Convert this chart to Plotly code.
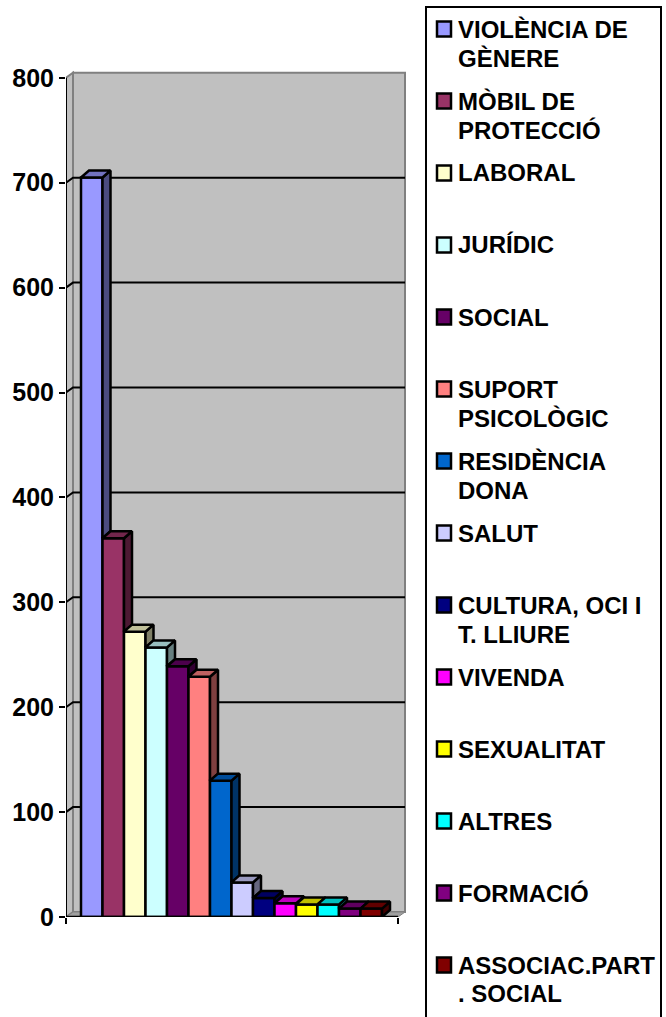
import plotly.graph_objects as go

# ---------- data ----------
categories = ["VIOLÈNCIA DE<br>GÈNERE", "MÒBIL DE<br>PROTECCIÓ", "LABORAL", "JURÍDIC", "SOCIAL",
              "SUPORT<br>PSICOLÒGIC", "RESIDÈNCIA<br>DONA", "SALUT", "CULTURA, OCI I<br>T. LLIURE",
              "VIVENDA", "SEXUALITAT", "ALTRES", "FORMACIÓ", "ASSOCIAC.PART<br>. SOCIAL"]
values = [705, 361, 272, 257, 239, 229, 130, 33, 18, 13, 12, 12, 8, 8]
colors = ["#9999FF", "#993366", "#FFFFCC", "#CCFFFF", "#660066", "#FF8080", "#0066CC",
          "#CCCCFF", "#000080", "#FF00FF", "#FFFF00", "#00FFFF", "#800080", "#800000"]
y_ticks = [0, 100, 200, 300, 400, 500, 600, 700, 800]

# ---------- geometry (pixels of the 666x1017 page) ----------
W, H = 666, 1017
L, R, T, B = 66, 406, 70, 917
BAR_PX, BAR_X0 = 21.5, 81
Y_PX = 1.049
FONT = "Liberation Sans, Arial, sans-serif"
EDGE = 2.5

x_lo = (L - BAR_X0) / BAR_PX
x_hi = (R - BAR_X0) / BAR_PX
y_hi = (B - T) / Y_PX
xu = lambda px: (px - BAR_X0) / BAR_PX      # page px -> x units
dyu = lambda px: px / Y_PX                  # page px -> y units
px_paper_x = lambda px: (px - L) / (R - L)
px_paper_y = lambda py: (B - py) / (B - T)

WALL_DX, WALL_DY = xu(73) - xu(66), dyu(5)
FLOOR_END = xu(398)
BAR_DX, BAR_DY = 8 / BAR_PX, dyu(7)
GRAY, WALL = "#808080", "#C0C0C0"


def shade(col, f):
    r, g, b = int(col[1:3], 16), int(col[3:5], 16), int(col[5:7], 16)
    return f"rgb({int(r*f)},{int(g*f)},{int(b*f)})"


fig = go.Figure()

# ---------- back wall, side wall, floor and gridlines ----------
x0, x1 = xu(66), FLOOR_END
shapes = [
    dict(type="path", layer="below", xref="x", yref="y",
         path=f"M{x0},0 L{x0+WALL_DX},{WALL_DY} L{x0+WALL_DX},{800+WALL_DY} L{x0},800 Z",
         fillcolor=WALL, line=dict(color=GRAY, width=2)),
    dict(type="rect", layer="below", xref="x", yref="y",
         x0=x0+WALL_DX, x1=x1+WALL_DX, y0=WALL_DY, y1=800+WALL_DY,
         fillcolor=WALL, line=dict(color=GRAY, width=2)),
    dict(type="path", layer="below", xref="x", yref="y",
         path=f"M{x0},0 L{x1},0 L{x1+WALL_DX},{WALL_DY} L{x0+WALL_DX},{WALL_DY} Z",
         fillcolor="#A0A0A0", line=dict(color=GRAY, width=1)),
]
for t in y_ticks[1:-1]:
    shapes.append(dict(type="path", layer="below", xref="x", yref="y",
                       path=f"M{x0},{t} L{x0+WALL_DX},{t+WALL_DY} L{x1+WALL_DX},{t+WALL_DY}",
                       line=dict(color="black", width=2)))

# ---------- bars: native front faces ----------
for i, (name, v, c) in enumerate(zip(categories, values, colors)):
    fig.add_trace(go.Bar(x=[i + 0.5], y=[v], width=[1], name=name.replace("<br>", " "),
                         marker=dict(color=c, line=dict(color="black", width=EDGE)),
                         showlegend=False))

# ---------- bars: side and top faces derived from the values ----------
for i, (v, c) in enumerate(zip(values, colors)):
    nxt = values[i + 1] if i + 1 < len(values) else 0
    r = i + 1
    fig.add_trace(go.Scatter(
        x=[r, r + BAR_DX, r + BAR_DX, r, r],
        y=[v, v + BAR_DY, nxt + BAR_DY, nxt, v],
        mode="lines", fill="toself", fillcolor=shade(c, 0.5),
        line=dict(color="black", width=EDGE), hoverinfo="skip", showlegend=False))
    fig.add_trace(go.Scatter(
        x=[i, i + BAR_DX, r + BAR_DX, r, i],
        y=[v, v + BAR_DY, v + BAR_DY, v, v],
        mode="lines", fill="toself", fillcolor=shade(c, 0.75),
        line=dict(color="black", width=EDGE), hoverinfo="skip", showlegend=False))

# ---------- axis lines ----------
fig.add_trace(go.Scatter(x=[x0, x0], y=[0, y_ticks[-1]], mode="lines", cliponaxis=False,
                         line=dict(color="black", width=2), hoverinfo="skip", showlegend=False))
fig.add_trace(go.Scatter(x=[x0, x1], y=[0, 0], mode="lines", cliponaxis=False,
                         line=dict(color="black", width=2.5), hoverinfo="skip", showlegend=False))

# ---------- legend box drawn to the reference's layout ----------
LEG_X0, LEG_X1, LEG_TOP, LEG_BOTTOM = 426, 661, 7, 1030
shapes.append(dict(type="rect", xref="paper", yref="paper", layer="above",
                   x0=px_paper_x(LEG_X0), x1=px_paper_x(LEG_X1),
                   y0=px_paper_y(LEG_BOTTOM), y1=px_paper_y(LEG_TOP),
                   fillcolor="white", line=dict(color="black", width=2)))
annotations = []
ROW0, ROW_STEP, LINE_STEP = 29, 72, 29
for k, (name, c) in enumerate(zip(categories, colors)):
    yc = ROW0 + ROW_STEP * k
    shapes.append(dict(type="rect", xref="paper", yref="paper", layer="above",
                       x0=px_paper_x(437), x1=px_paper_x(451),
                       y0=px_paper_y(yc + 7.5), y1=px_paper_y(yc - 7.5),
                       fillcolor=c, line=dict(color="black", width=2.5)))
    for j, part in enumerate(name.split("<br>")):
        annotations.append(dict(xref="paper", yref="paper", showarrow=False,
                                x=px_paper_x(456), y=px_paper_y(yc + j * LINE_STEP),
                                xanchor="left", yanchor="middle", text=f"<b>{part}</b>",
                                font=dict(family=FONT, size=24, color="black")))

fig.update_layout(
    width=W, height=H, autosize=False,
    margin=dict(l=L, r=W - R, t=T, b=H - B, pad=0),
    paper_bgcolor="white", plot_bgcolor="white",
    barmode="overlay", showlegend=False,
    shapes=shapes, annotations=annotations,
    font=dict(family=FONT, color="black"),
    xaxis=dict(range=[x_lo, x_hi], showgrid=False, zeroline=False, showline=False, automargin=False,
               tickmode="array", tickvals=[x0, x1], ticktext=["", ""],
               ticks="outside", ticklen=6, tickwidth=2, tickcolor="black"),
    yaxis=dict(range=[0, y_hi], showgrid=False, zeroline=False, showline=False, automargin=False,
               tickmode="array", tickvals=y_ticks, ticktext=[f"<b>{t}</b>" for t in y_ticks],
               ticks="outside", ticklen=6, tickwidth=2, tickcolor="black",
               tickfont=dict(family=FONT, size=25, color="black")),
)

fig.write_html("out.html", config=dict(displayModeBar=False),
               post_script="document.body.style.margin='0';document.body.style.overflow='hidden';")
